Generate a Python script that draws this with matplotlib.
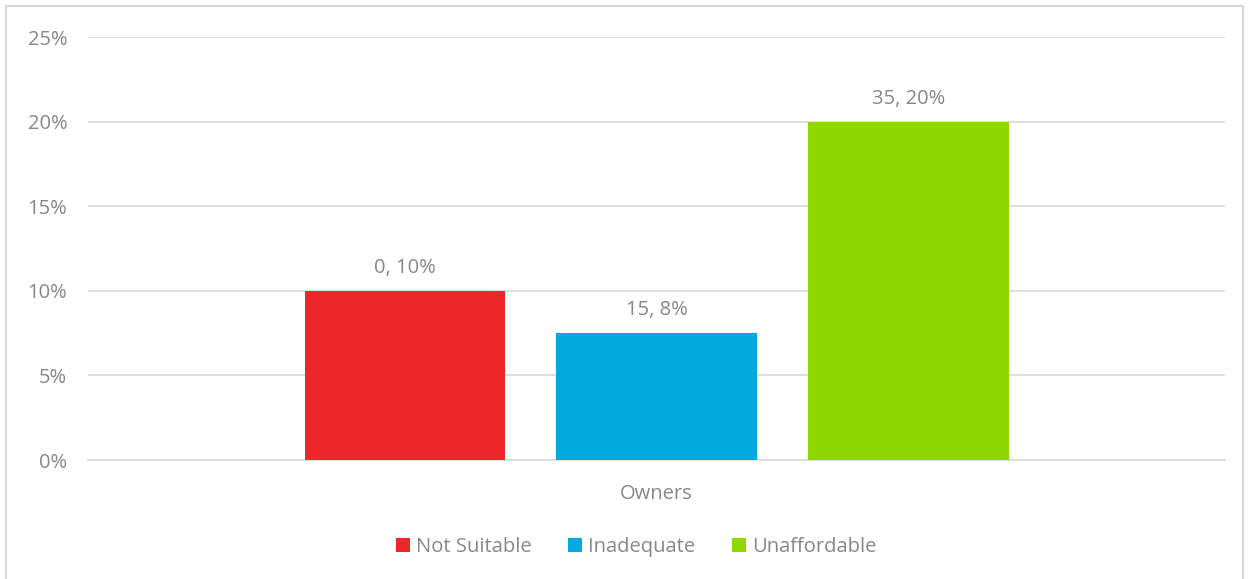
import matplotlib.pyplot as plt
from matplotlib.patches import Rectangle
import numpy as np

categories = ['Owners']
series = ['Not Suitable', 'Inadequate', 'Unaffordable']
values = [10, 7.5, 20]
labels = ['0, 10%', '15, 8%', '35, 20%']
colors = ['#ec2629', '#00a9e0', '#8ed700']

text_color = '#878787'
plt.rcParams['font.family'] = ['Open Sans', 'DejaVu Sans']
fs = 14.5

fig = plt.figure(figsize=(12.5, 5.79), dpi=100)
ax = fig.add_axes([0.0704, 0.2055, 0.9096, 0.7305])

# light frame around the whole chart
fig.patches.append(Rectangle((6 / 1250, -0.01), 1237 / 1250, 1 - 6 / 579 + 0.01,
                             transform=fig.transFigure, fill=False,
                             edgecolor='#d9d9d9', linewidth=1.5))

width = 0.176
offsets = [-0.2212, 0.0, 0.2216]
for name, v, lab, c, off in zip(series, values, labels, colors, offsets):
    ax.bar(off, v, width=width, color=c, label=name, zorder=3)
    ax.text(off, v + 0.75, lab, ha='center', va='bottom', fontsize=fs, color=text_color)

ax.set_xlim(-0.5, 0.5)
ax.set_ylim(0, 25)
ax.set_yticks(np.arange(0, 26, 5))
ax.set_yticklabels([f'{t}%' for t in range(0, 26, 5)])
ax.set_xticks([0])
ax.set_xticklabels(categories)
ax.tick_params(axis='both', length=0, labelsize=fs, labelcolor=text_color)
ax.tick_params(axis='y', pad=15)
ax.tick_params(axis='x', pad=17.5)
ax.grid(axis='y', color='#d9d9d9', linewidth=1.2, zorder=0)
for s in ['top', 'right', 'left']:
    ax.spines[s].set_visible(False)
ax.spines['bottom'].set_color('#d9d9d9')
ax.spines['bottom'].set_linewidth(1.2)

leg = ax.legend(loc='center', bbox_to_anchor=(636 / 1250, 32 / 579),
                bbox_transform=fig.transFigure, ncol=3, frameon=False,
                fontsize=fs, handlelength=0.7, handleheight=0.7,
                handletextpad=0.3, columnspacing=1.8)
for t in leg.get_texts():
    t.set_color(text_color)

fig.savefig('out.png', dpi=100)
